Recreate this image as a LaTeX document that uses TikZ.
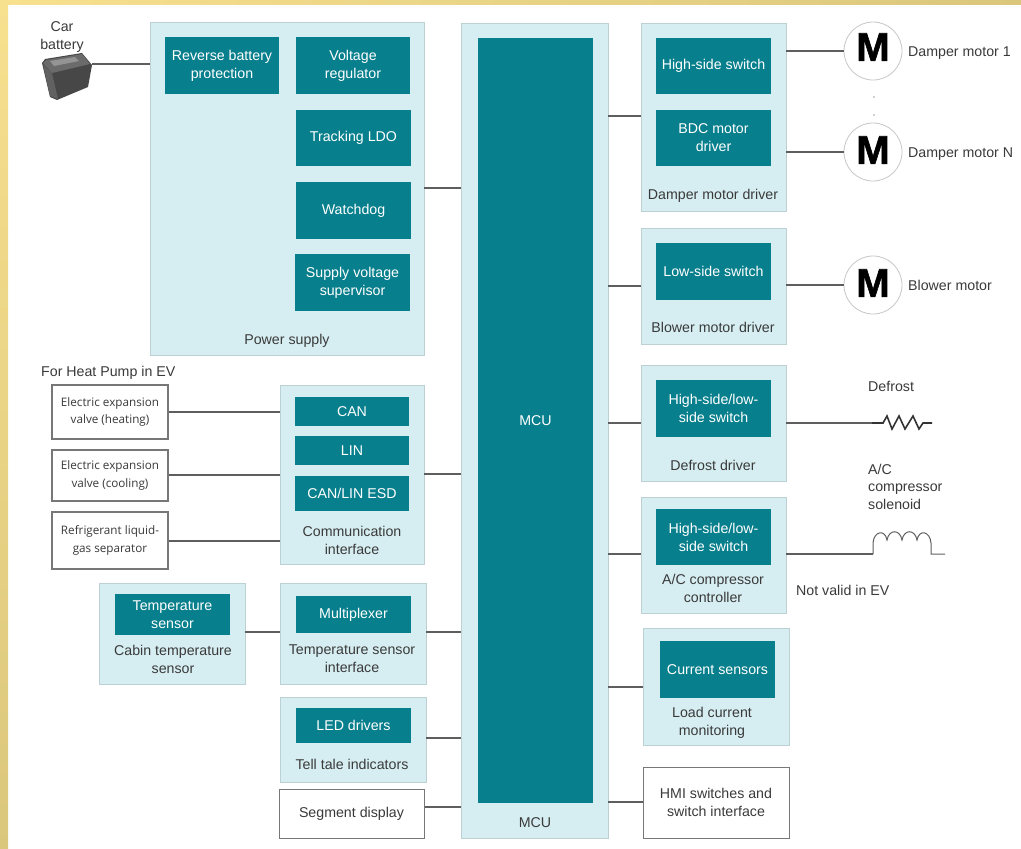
\documentclass[tikz,border=0pt]{standalone}
\usepackage{fontspec}
\setmainfont{Liberation Sans}
\newfontfamily\smallfnt{Open Sans}
\newfontfamily\mfnt[FakeBold=1.5]{Liberation Sans Bold}
\definecolor{panel}{HTML}{D6EEF2}
\definecolor{teal}{HTML}{087F8C}
\definecolor{ink}{HTML}{3A3A3A}
\definecolor{wire}{HTML}{5E5E5E}
\definecolor{edgeb}{HTML}{777777}
\definecolor{frameA}{HTML}{F7E08E}
\definecolor{frameB}{HTML}{DBC77C}
\tikzset{
  panelbox/.style={fill=panel,draw=panel!85!black!90,line width=0.5pt,inner sep=0pt},
  chip/.style={fill=teal,draw=none,text=white,align=center,inner sep=0pt,font=\fontsize{14.2}{18}\selectfont},
  whitebox/.style={fill=white,draw=edgeb,line width=1pt,align=center,inner sep=0pt,text=ink,font=\fontsize{14.2}{18}\selectfont},
  smallbox/.style={whitebox,line width=1.3pt,font=\smallfnt\fontsize{11.7}{17.5}\selectfont},
  lbl/.style={text=ink,align=center,inner sep=0pt,font=\fontsize{14.2}{18}\selectfont},
  lblleft/.style={lbl,anchor=west,align=left,font=\fontsize{14.2}{17.5}\selectfont},
  wireline/.style={draw=wire,line width=1.3pt},
  motor/.style={circle,fill=white,draw=black!22,line width=0.8pt,minimum size=58pt,inner sep=0pt,text=black,font=\mfnt\fontsize{40}{40}\selectfont},
  dotmark/.style={circle,fill=ink,inner sep=0pt,minimum size=1.2pt},
}
\newcommand{\bx}[7]{\node[#6,minimum width={(#4-#2)*1pt},minimum height={(#5-#3)*1pt}] (#1) at ({(#2+#4)/2},{(#3+#5)/2}) {#7};}
\newcommand{\bigM}[1]{\raisebox{#1}[0pt][0pt]{M}}
\begin{document}
\begin{tikzpicture}[x=1pt,y=-1pt]
\useasboundingbox (0,0) rectangle (1021,849);
\fill[white] (0,0) rectangle (1021,849);
\shade[left color=frameA,right color=frameB] (0,0) rectangle (1021,4);
\shade[top color=frameA,bottom color=frameB] (0,0) rectangle (8,849);
% panels
\bx{pwr}{150}{22}{424}{355}{panelbox}{}
\bx{comm}{280}{385}{424}{564}{panelbox}{}
\bx{tif}{280}{583}{426}{684}{panelbox}{}
\bx{tell}{280}{697}{426}{782}{panelbox}{}
\bx{mcup}{461}{23}{608}{838}{panelbox}{}
\bx{damp}{641}{23}{786}{211}{panelbox}{}
\bx{blow}{641}{228}{786}{344}{panelbox}{}
\bx{defr}{641}{365}{786}{481}{panelbox}{}
\bx{acc}{641}{497}{786}{613}{panelbox}{}
\bx{cur}{643}{628}{789}{745}{panelbox}{}
\bx{cabin}{99}{583}{245}{684}{panelbox}{}
% chips
\bx{rev}{165}{37}{279}{94}{chip}{Reverse battery\\protection}
\bx{volt}{296}{37}{410}{94}{chip}{Voltage\\regulator}
\bx{track}{296}{110}{411}{166}{chip}{Tracking LDO}
\bx{wd}{296}{182}{411}{239}{chip}{Watchdog}
\bx{sup}{295}{254}{410}{311}{chip}{Supply voltage\\supervisor}
\bx{can}{295}{397}{409}{426}{chip}{CAN}
\bx{lin}{295}{436}{409}{465}{chip}{LIN}
\bx{esd}{295}{476}{409}{511}{chip}{CAN/LIN ESD}
\bx{mux}{296}{596}{411}{633}{chip}{Multiplexer}
\bx{led}{296}{708}{411}{743}{chip}{LED drivers}
\bx{mcu}{478}{38}{593}{803}{chip}{MCU}
\bx{hs}{656}{38}{771}{94}{chip}{High-side switch}
\bx{bdc}{656}{110}{771}{166}{chip}{BDC motor\\driver}
\bx{ls}{656}{243}{771}{300}{chip}{Low-side switch}
\bx{hl}{656}{380}{771}{437}{chip}{High-side/low-\\side switch}
\bx{hlb}{656}{509}{771}{565}{chip}{High-side/low-\\side switch}
\bx{cs}{660}{641}{775}{698}{chip}{Current sensors}
\bx{ts}{115}{594}{230}{635}{chip}{Temperature\\sensor}
% white boxes
\bx{seg}{279}{789}{424}{838}{whitebox}{Segment display}
\bx{hmi}{643}{767}{789}{838}{whitebox}{HMI switches and\\switch interface}
\bx{eh}{52}{385}{168}{439}{smallbox}{Electric expansion\\valve (heating)}
\bx{ec}{52}{450}{168}{501}{smallbox}{Electric expansion\\valve (cooling)}
\bx{rg}{52}{512}{168}{569}{smallbox}{Refrigerant liquid-\\gas separator}
% labels
\node[lbl] (lpwr) at (287,340.5) {Power supply};
\node[lbl] (lcomm) at (352,540) {Communication\\interface};
\node[lbl] (ltif) at (352,659) {Temperature sensor\\interface};
\node[lbl] (ltell) at (352,764) {Tell tale indicators};
\node[lbl] (lmcu) at (535,823) {MCU};
\node[lbl] (ldamp) at (713,195.5) {Damper motor driver};
\node[lbl] (lblow) at (713,327) {Blower motor driver};
\node[lbl] (ldefr) at (713,465) {Defrost driver};
\node[lbl] (lacc) at (713,588) {A/C compressor\\controller};
\node[lbl] (lcur) at (712,723) {Load current\\monitoring};
\node[lbl] (lcab) at (173,659) {Cabin temperature\\sensor};
\node[lbl] (lbat) at (62,37.5) {Car\\battery};
\node[lblleft] (lheat) at (41,372.5) {For Heat Pump in EV};
\node[lblleft] (lm1) at (908,53) {Damper motor 1};
\node[lblleft] (lmn) at (908,154) {Damper motor N};
\node[lblleft] (lmb) at (908,285) {Blower motor};
\node[lblleft] (ldf) at (868,386) {Defrost};
\node[lblleft] (lsol) at (868,486.5) {A/C\\compressor\\solenoid};
\node[lblleft] (lnv) at (796,590) {Not valid in EV};
% motors
\node[motor] (m1) at (873,51) {\bigM{-9.8pt}};
\node[motor] (mn) at (873,152) {\bigM{-11.8pt}};
\node[motor] (mb) at (873,285) {\bigM{-11.8pt}};
\node[dotmark] (d1) at (874,97) {};
\node[dotmark] (d2) at (874,115) {};
% battery
\coordinate (bat) at (92,64);
\fill[black!72] (42,63) -- (45,59) -- (82,53) -- (92,65) -- (88,87) -- (57,100) -- (50,97) -- cycle;
\fill[black!58] (43,63) -- (46,60) -- (82,54) -- (90,64) -- (52,73) -- cycle;
\fill[black!42] (50,61) -- (75,57) -- (79,61) -- (54,66) -- cycle;
\fill[black!62] (43,64) -- (52,73) -- (58,99) -- (50,96) -- cycle;
% connectors
\draw[wireline] (bat) -- (pwr.west |- bat);
\draw[wireline] (pwr.east |- 0,188) -- (mcup.west |- 0,188);
\draw[wireline] (comm.east |- 0,474) -- (mcup.west |- 0,474);
\draw[wireline] (tif.east |- 0,632) -- (mcup.west |- 0,632);
\draw[wireline] (tell.east |- 0,738) -- (mcup.west |- 0,738);
\draw[wireline] (seg.east |- 0,807) -- (mcup.west |- 0,807);
\draw[wireline] (eh.east |- 0,412) -- (comm.west |- 0,412);
\draw[wireline] (ec.east |- 0,475) -- (comm.west |- 0,475);
\draw[wireline] (rg.east |- 0,541) -- (comm.west |- 0,541);
\draw[wireline] (cabin.east |- 0,632) -- (tif.west |- 0,632);
\draw[wireline] (mcup.east |- 0,116) -- (damp.west |- 0,116);
\draw[wireline] (mcup.east |- 0,286) -- (blow.west |- 0,286);
\draw[wireline] (mcup.east |- 0,423) -- (defr.west |- 0,423);
\draw[wireline] (mcup.east |- 0,554) -- (acc.west |- 0,554);
\draw[wireline] (mcup.east |- 0,687) -- (cur.west |- 0,687);
\draw[wireline] (mcup.east |- 0,802) -- (hmi.west |- 0,802);
\draw[wireline] (damp.east |- m1.west) -- (m1.west);
\draw[wireline] (damp.east |- mn.west) -- (mn.west);
\draw[wireline] (blow.east |- mb.west) -- (mb.west);
% resistor
\coordinate (rs) at (872,423);
\coordinate (re) at (932,423);
\draw[wireline] (defr.east |- rs) -- (rs);
\draw[draw=black!80,line width=1.6pt] (rs) -- (883,423) -- (887,416) -- (892,429) -- (899,416) -- (905,429) -- (913,416) -- (919,429) -- (923,423) -- (re);
% coil
\coordinate (cs) at (873,554);
\coordinate (ce) at (945,554);
\draw[wireline] (acc.east |- cs) -- (cs);
\draw[wireline,line width=1pt] (cs) -- (873,543) .. controls (874,531) and (885,529) .. (887,540)
  .. controls (889,529) and (900,529) .. (902,540)
  .. controls (904,529) and (915,529) .. (917,540)
  .. controls (919,529) and (930,531) .. (931,543) -- (931,554) -- (ce);
\end{tikzpicture}
\end{document}
